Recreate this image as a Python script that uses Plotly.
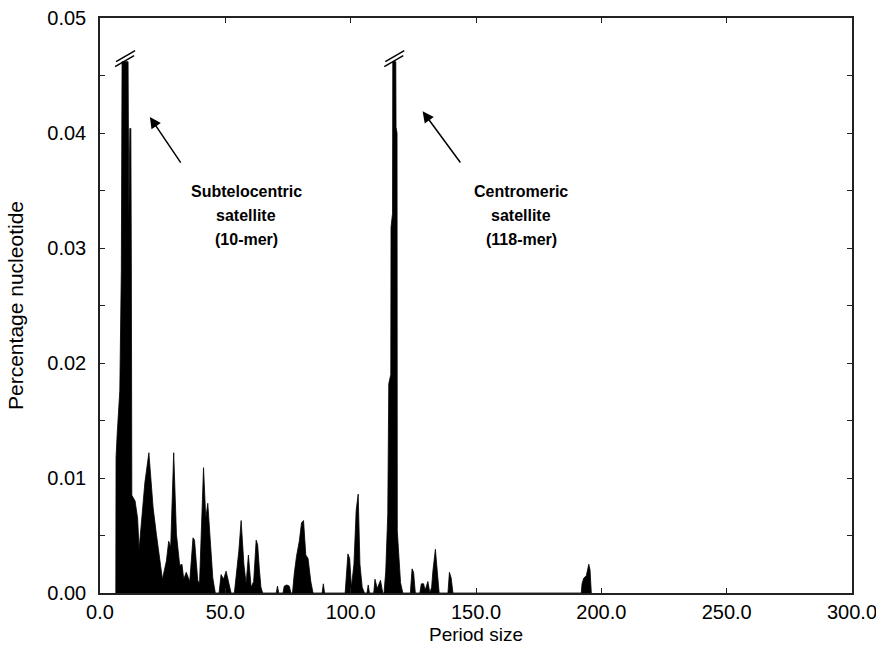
import plotly.graph_objects as go

# Value at which the two off-scale peaks are truncated (drawn with break marks)
CLIP = 0.0462

# Silhouette of the period-size distribution
period_a = [6.3, 6.4, 6.9, 7.9, 8.5, 8.8, 11.2, 11.5, 11.9, 12.3, 12.5, 12.7,
            14.0, 15.0, 15.6, 16.5, 17.9, 19.5, 21.2, 22.5, 23.8, 24.9, 26.5, 27.4,
            28.2, 29.4, 30.5, 31.8, 32.7, 33.4, 34.4, 35.8, 37.1, 37.7, 39.0, 39.7,
            41.3, 42.2, 43.0, 44.0, 45.0, 46.0]
value_a = [0, 0.0118, 0.0140, 0.0176, 0.0280, CLIP, CLIP, 0.0325, 0.0404, 0.0404, 0.0290, 0.0085,
           0.0080, 0.0065, 0.0038, 0.0063, 0.0096, 0.0122, 0.0074, 0.0051, 0.0031, 0.0012, 0.0028, 0.0045,
           0.0040, 0.0122, 0.0051, 0.0024, 0.0025, 0.0012, 0.0018, 0.0010, 0.0048, 0.0046, 0.0011, 0.0008,
           0.0109, 0.0065, 0.0078, 0.0040, 0.0013, 0.0]

period_b = [47.5, 48.3, 49.3, 50.3, 51.3, 52.3, 53.6, 54.3, 55.4, 56.3, 57.4, 58.3,
            59.2, 60.3, 61.3, 62.3, 62.9, 63.6, 64.2, 64.9, 70.3, 70.8, 71.3, 73.0,
            73.5, 74.5, 75.5, 76.2, 76.8, 77.5, 78.4, 79.5, 80.4, 81.2, 82.1, 83.0,
            84.1, 85.0]
value_b = [0, 0.0016, 0.0012, 0.0019, 0.0008, 0, 0, 0.0013, 0.0037, 0.0063, 0.0025, 0.0008,
           0.0033, 0.0005, 0.0010, 0.0046, 0.0042, 0.0020, 0.0005, 0, 0, 0.0006, 0, 0,
           0.0006, 0.0007, 0.0006, 0, 0, 0.0017, 0.0032, 0.0045, 0.0061, 0.0063, 0.0033, 0.0030,
           0.0010, 0]

period_c = [88.6, 89.1, 89.6, 97.8, 98.4, 98.9, 99.6, 100.3, 101.3, 102.2, 103.0, 103.7,
            104.6, 105.5, 106.5, 107.0, 107.5, 109.2, 109.7, 110.6, 111.9, 112.8, 113.3, 114.0,
            114.8, 115.2, 116.0, 116.1, 116.7, 116.8, 118.0, 118.1, 118.5, 118.6, 119.0, 119.9,
            120.8]
value_c = [0, 0.0008, 0, 0, 0.0015, 0.0034, 0.0030, 0.0005, 0.0025, 0.0072, 0.0086, 0.0025,
           0.0005, 0, 0, 0.0007, 0, 0, 0.0012, 0.0004, 0.0011, 0, 0, 0.0019,
           0.0069, 0.0182, 0.0190, 0.0318, 0.0330, CLIP, CLIP, 0.0405, 0.0400, 0.0054, 0.0040, 0.0009,
           0]

period_d = [123.8, 124.5, 125.1, 125.8, 127.6, 128.2, 129.1, 129.6, 130.1, 130.8, 131.6, 132.3,
            132.8, 133.8, 134.7, 135.3, 138.8, 139.4, 140.1, 140.8, 192.0, 192.3, 193.0, 194.0,
            195.0, 195.5, 196.0]
value_d = [0, 0.0021, 0.0018, 0, 0, 0.0008, 0.0008, 0.0003, 0.0005, 0.0010, 0, 0.0005,
           0.0019, 0.0038, 0.0011, 0, 0, 0.0018, 0.0013, 0, 0, 0.0008, 0.0013, 0.0015,
           0.0025, 0.0020, 0]

period = period_a + period_b + period_c + period_d
value = value_a + value_b + value_c + value_d
assert len(period) == len(value)

x_ticks = [0, 50, 100, 150, 200, 250, 300]
y_ticks = [0.00, 0.01, 0.02, 0.03, 0.04, 0.05]

FONT = "Liberation Sans, Arial, Helvetica, sans-serif"

fig = go.Figure()
fig.add_trace(go.Scatter(
    x=period, y=value, mode="lines", fill="tozeroy",
    fillcolor="black", line=dict(color="black", width=0.8),
    hoverinfo="x+y", showlegend=False,
))

# Break marks on truncated peaks, located from the data
centers = []
run = []
for px, v in zip(period, value):
    if v == CLIP:
        run.append(px)
    elif run:
        centers.append(sum(run) / len(run))
        run = []
shapes = []
for cx in centers:
    for (a0, b0, a1, b1) in [(-10, -5, 9, 6), (-9, 0, 10, 11)]:
        shapes.append(dict(type="line", xref="x", yref="y",
                           xsizemode="pixel", ysizemode="pixel",
                           xanchor=cx, yanchor=CLIP,
                           x0=a0, y0=b0, x1=a1, y1=b1,
                           line=dict(color="black", width=1.5)))

annotations = []
# arrows
for tip, tail in [((19.9, 0.0414), (32.6, 0.0373)), ((128.7, 0.0419), (144.2, 0.0373))]:
    annotations.append(dict(x=tip[0], y=tip[1], ax=tail[0], ay=tail[1],
                            xref="x", yref="y", axref="x", ayref="y",
                            text="", showarrow=True, arrowhead=2, arrowsize=1.5,
                            arrowwidth=1.5, arrowcolor="black"))
labels = [(58.4, ["Subtelocentric", "satellite", "(10-mer)"]),
          (168.0, ["Centromeric", "satellite", "(118-mer)"])]
for xc, lines in labels:
    for i, t in enumerate(lines):
        annotations.append(dict(x=xc, y=0.0349, xref="x", yref="y", text=f"<b>{t}</b>",
                                showarrow=False, yshift=-24 * i,
                                font=dict(family=FONT, size=16, color="black")))

fig.update_layout(
    width=876, height=647,
    margin=dict(l=100, r=24, t=18, b=54, autoexpand=False),
    paper_bgcolor="white", plot_bgcolor="white",
    font=dict(family=FONT, size=20, color="black"),
    shapes=shapes, annotations=annotations,
    xaxis=dict(range=[0, 300], tickvals=x_ticks, tickformat=".1f",
               ticks="inside", ticklen=5, tickcolor="#222", mirror="allticks",
               showline=True, linecolor="#222", linewidth=1.5,
               showgrid=False, zeroline=False, automargin=False,
               ticklabeloverflow="allow",
               title=dict(text="Period size", font=dict(size=19), standoff=6)),
    yaxis=dict(range=[0, 0.05], tickvals=y_ticks, tickformat=".2f",
               ticks="inside", ticklen=5, tickcolor="#222", mirror="allticks",
               minor=dict(dtick=0.005, ticks="inside", ticklen=5, tickcolor="#222"),
               showline=True, linecolor="#222", linewidth=1.5,
               showgrid=False, zeroline=False, automargin=False,
               ticklabeloverflow="allow", ticklabelstandoff=8,
               title=dict(text="Percentage nucleotide", font=dict(size=21), standoff=18)),
)

fig.write_html("out.html", config={"displayModeBar": False},
               post_script="document.body.style.margin='0';document.body.style.overflow='hidden';")
